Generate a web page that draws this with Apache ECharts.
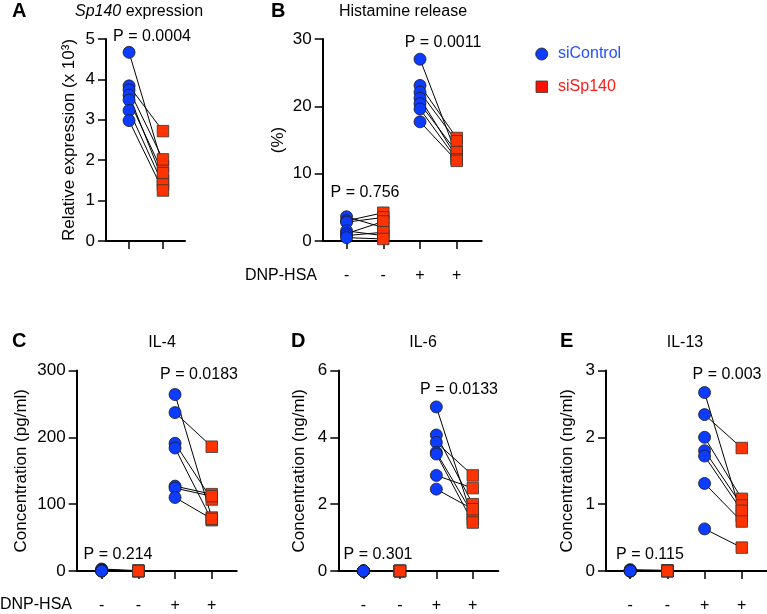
<!DOCTYPE html>
<html>
<head>
<meta charset="utf-8">
<script src="https://cdn.jsdelivr.net/npm/echarts@6/dist/echarts.min.js"></script>
<style>html,body{margin:0;padding:0;background:#fff}#c{width:767px;height:614px}</style>
</head>
<body>
<div id="c"></div>
<script>
// ---- Data (paired values, index i in ctrl pairs with index i in si) ----
const tickSigns = ['-', '-', '+', '+'];

// A: Sp140 expression (x10^3)
const aCtrl = [4.67, 3.84, 3.74, 3.61, 3.49, 3.23, 2.98];
const aSi   = [1.85, 2.72, 2.02, 1.50, 1.68, 1.40, 1.25];

// B: Histamine release (%)
const bCtrlNeg = [3.6, 3.0, 2.8, 1.5, 1.1, 0.8, 0.5];
const bSiNeg   = [2.0, 4.2, 3.5, 0.8, 2.9, 1.3, 0.3];
const bCtrlPos = [27.0, 23.1, 22.1, 21.2, 20.4, 19.6, 17.7];
const bSiPos   = [12.8, 15.3, 14.8, 12.4, 13.2, 12.1, 11.9];

// C: IL-4 (pg/ml)
const cCtrlNeg = [3, 2, 1, 0.5, 0, 0, 0];
const cSiNeg   = [0.5, 0, 0, 0, 0, 0, 0];
const cCtrlPos = [264, 237, 191, 184, 127, 124, 110];
const cSiPos   = [80, 186, 107, 76, 115, 112, 78];

// D: IL-6 (ng/ml)
const dCtrlNeg = [0, 0, 0, 0, 0, 0, 0];
const dSiNeg   = [0, 0, 0, 0, 0, 0, 0];
const dCtrlPos = [4.91, 4.07, 3.85, 3.55, 3.50, 2.86, 2.45];
const dSiPos   = [1.55, 2.00, 2.86, 1.70, 1.45, 2.48, 1.85];

// E: IL-13 (ng/ml)
const eCtrlNeg = [0.02, 0.01, 0, 0, 0, 0, 0];
const eSiNeg   = [0.01, 0, 0, 0, 0, 0, 0];
const eCtrlPos = [2.67, 2.34, 2.00, 1.80, 1.72, 1.31, 0.63];
const eSiPos   = [0.82, 1.84, 1.08, 0.98, 0.90, 0.74, 0.35];

// ---- Styling ----
const FONT = 'Liberation Sans, Arial, sans-serif';
const BLUE = '#0b3cff';
const RED = '#ff3300';

const panels = [
  { grid: {left: 106, top: 39, width: 79, height: 202}, xr: [-0.68, 1.65], ymax: 5, yint: 1,
    name: 'Relative expression (x 10³)', gap: 28, labels: false,
    groups: [{x0: 0, c: aCtrl, s: aSi}] },
  { grid: {left: 322.7, top: 39, width: 159, height: 202}, xr: [-0.65, 3.68], ymax: 30, yint: 10,
    name: '(%)', gap: 36, labels: true,
    groups: [{x0: 0, c: bCtrlNeg, s: bSiNeg}, {x0: 2, c: bCtrlPos, s: bSiPos}] },
  { grid: {left: 76.7, top: 370.5, width: 160, height: 202}, xr: [-0.68, 3.68], ymax: 300, yint: 100,
    name: 'Concentration (pg/ml)', gap: 47, labels: true,
    groups: [{x0: 0, c: cCtrlNeg, s: cSiNeg}, {x0: 2, c: cCtrlPos, s: cSiPos}] },
  { grid: {left: 338.3, top: 370.5, width: 160, height: 202}, xr: [-0.69, 3.7], ymax: 6, yint: 2,
    name: 'Concentration (ng/ml)', gap: 30, labels: true,
    groups: [{x0: 0, c: dCtrlNeg, s: dSiNeg}, {x0: 2, c: dCtrlPos, s: dSiPos}] },
  { grid: {left: 606, top: 370.5, width: 160.7, height: 202}, xr: [-0.65, 3.67], ymax: 3, yint: 1,
    name: 'Concentration (ng/ml)', gap: 30, labels: true,
    groups: [{x0: 0, c: eCtrlNeg, s: eSiNeg}, {x0: 2, c: eCtrlPos, s: eSiPos}] }
];

const grids = [], xAxes = [], yAxes = [], series = [];
panels.forEach((p, i) => {
  grids.push(Object.assign({containLabel: false}, p.grid));
  const ticks = p.groups.length === 1 ? [0, 1] : [0, 1, 2, 3];
  xAxes.push({
    type: 'value', gridIndex: i, min: p.xr[0], max: p.xr[1],
    splitLine: {show: false},
    axisLine: {show: true, onZero: false, lineStyle: {color: '#000', width: 2}},
    axisTick: {show: true, customValues: ticks, length: 8, lineStyle: {color: '#000', width: 1.5}},
    axisLabel: {show: p.labels, customValues: ticks, formatter: v => tickSigns[Math.round(v)],
      margin: 27, color: '#000', fontSize: 16, fontFamily: FONT}
  });
  yAxes.push({
    type: 'value', gridIndex: i, min: 0, max: p.ymax, interval: p.yint,
    splitLine: {show: false},
    axisLine: {show: true, onZero: false, lineStyle: {color: '#000', width: 2}},
    axisTick: {show: true, length: 8, lineStyle: {color: '#000', width: 1.5}},
    axisLabel: {color: '#000', fontSize: 17, fontFamily: FONT, margin: 11},
    name: p.name, nameLocation: 'middle', nameGap: p.gap,
    nameTextStyle: {color: '#000', fontSize: 17, fontFamily: FONT}
  });
  const ctrlPts = [], siPts = [];
  p.groups.forEach(g => {
    g.c.forEach((v, k) => {
      series.push({
        type: 'line', xAxisIndex: i, yAxisIndex: i, silent: true, symbol: 'none',
        lineStyle: {color: '#000', width: 1}, z: 2,
        data: [[g.x0, v], [g.x0 + 1, g.s[k]]]
      });
      ctrlPts.push([g.x0, v]);
      siPts.push([g.x0 + 1, g.s[k]]);
    });
  });
  series.push({
    type: 'scatter', xAxisIndex: i, yAxisIndex: i, symbol: 'circle', symbolSize: 12, z: 3,
    itemStyle: {color: BLUE, borderColor: '#1a1a1a', borderWidth: 0.8, opacity: 1},
    data: ctrlPts
  });
  series.push({
    type: 'scatter', xAxisIndex: i, yAxisIndex: i, symbol: 'rect', symbolSize: 11.5, z: 3,
    itemStyle: {color: RED, borderColor: '#333', borderWidth: 0.8, opacity: 1},
    data: siPts
  });
});

function txt(x, y, text, opts) {
  return {type: 'text', x: x, y: y, style: Object.assign({
    text: text, fill: '#000', fontSize: 16, fontFamily: FONT, align: 'center', verticalAlign: 'middle'
  }, opts || {})};
}
const letter = {fontWeight: 'bold', fontSize: 20, align: 'left'};

const graphics = [
  txt(12, 11, 'A', letter),
  txt(271, 11, 'B', letter),
  txt(12, 341, 'C', letter),
  txt(291, 341, 'D', letter),
  txt(560, 341, 'E', letter),
  {type: 'text', x: 75, y: 12, style: {
    text: '{i|Sp140} expression', fill: '#000', fontSize: 16, fontFamily: FONT,
    verticalAlign: 'middle', align: 'left',
    rich: {i: {fontStyle: 'italic', fontSize: 16, fontFamily: FONT, fill: '#000'}}
  }},
  txt(403, 12, 'Histamine release'),
  txt(162, 343, 'IL-4'),
  txt(423, 343, 'IL-6'),
  txt(685, 343, 'IL-13'),
  txt(152, 37, 'P = 0.0004'),
  txt(443, 43, 'P = 0.0011'),
  txt(365, 193, 'P = 0.756'),
  txt(199, 375, 'P = 0.0183'),
  txt(118, 555, 'P = 0.214'),
  txt(459, 390, 'P = 0.0133'),
  txt(378, 555, 'P = 0.301'),
  txt(727, 375, 'P = 0.003'),
  txt(650, 555, 'P = 0.115'),
  txt(245, 276, 'DNP-HSA', {align: 'left'}),
  txt(0, 605, 'DNP-HSA', {align: 'left'}),
  {type: 'circle', shape: {cx: 541.7, cy: 54, r: 6}, style: {fill: BLUE, stroke: '#1a1a1a', lineWidth: 0.8}},
  txt(558, 54, 'siControl', {align: 'left', fill: '#2450ff'}),
  {type: 'rect', shape: {x: 536, y: 81, width: 11.5, height: 11.5}, style: {fill: '#ff1100', stroke: '#333', lineWidth: 0.8}},
  txt(558, 87, 'siSp140', {align: 'left', fill: '#ff1a1a'})
];

const chart = echarts.init(document.getElementById('c'), null, {renderer: 'canvas'});
chart.setOption({
  animation: false,
  backgroundColor: '#fff',
  grid: grids, xAxis: xAxes, yAxis: yAxes, series: series,
  graphic: graphics
});
</script>
</body>
</html>
